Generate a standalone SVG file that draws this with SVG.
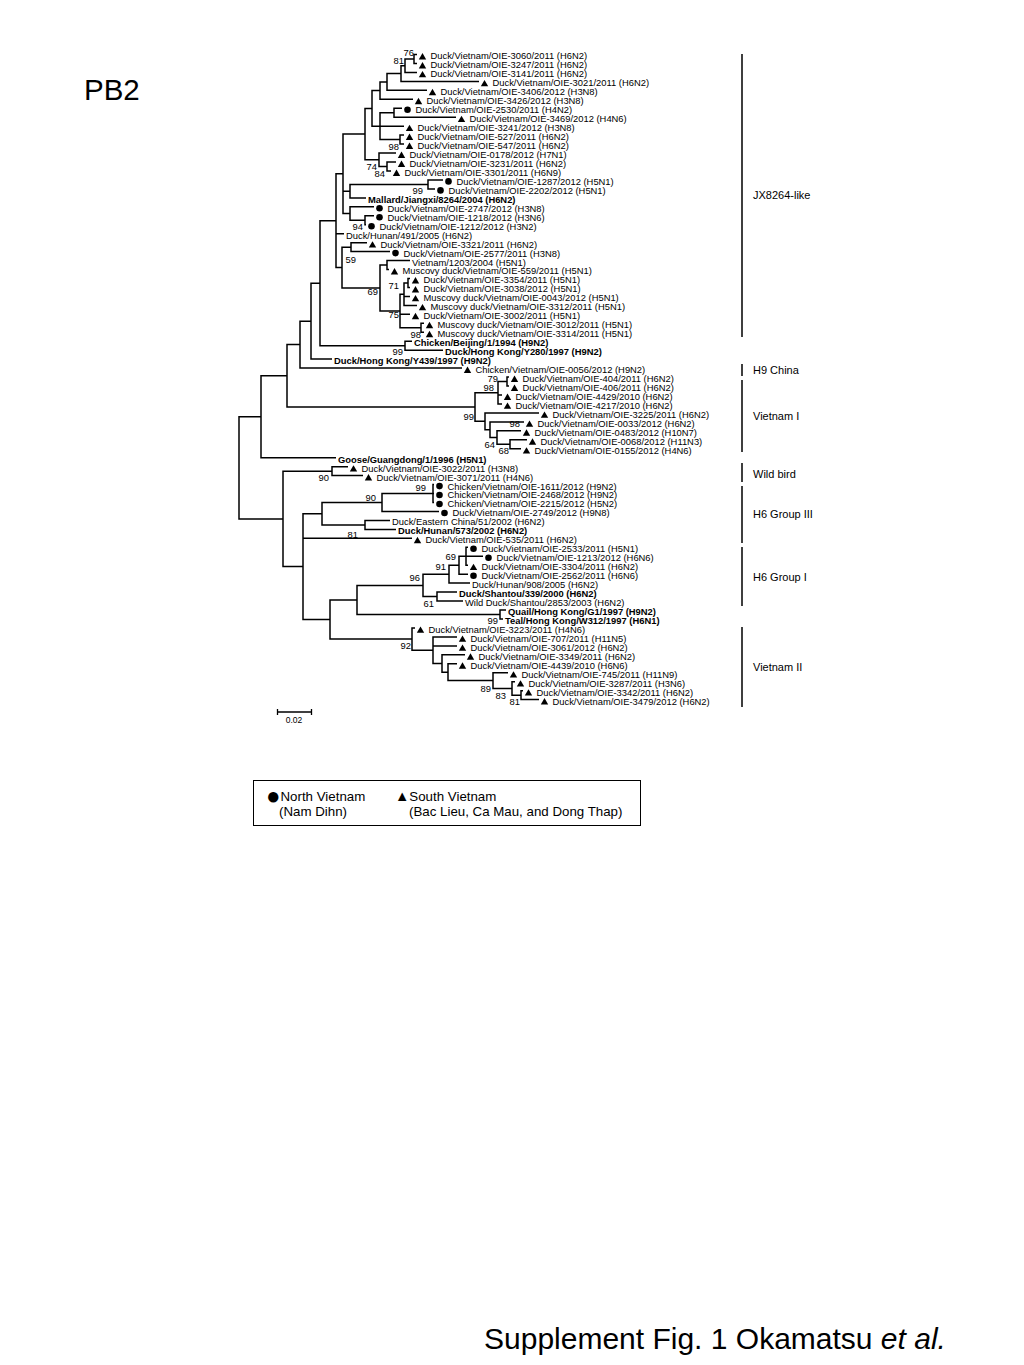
<svg xmlns="http://www.w3.org/2000/svg" width="1024" height="1365" viewBox="0 0 1024 1365">
<style>
text{font-family:"Liberation Sans",Arial,sans-serif;fill:#000}
.l{font-size:9.4px}
.b{font-size:9.4px;font-weight:bold}
.s{font-size:9.4px}
.c{font-size:11px}
.g{font-size:13.3px}
.br{fill:none;stroke:#000;stroke-width:1.5}
</style>
<defs>
<polygon id="tri" points="0,-6.4 3.7,0 -3.7,0" fill="#000"/>
<circle id="dot" r="3.3" fill="#000"/>
</defs>
<rect width="1024" height="1365" fill="#fff"/>
<text x="84" y="100" style="font-size:29.5px">PB2</text>
<g id="branches" class="br">
<path d="M417,54.5H414V63.5H417M414,59H405V72.4H417M405,65.7H401V81.4H479M401,73.55H387V90.3H427M387,81.9H380V99.3H413M402,108.3H394V117.2H456M404,135.1H400V144.1H404M394,112.75H380V139.6H400M380,126.2H404M380,90.6H372V126.2H380M396,162H387V171H391M396,153.1H379V166.5H387M372,108.4H365V159.8H379M443,179.9H428V188.9H435M428,184.4H350V197.9H366M374,215.8H365V224.7H366M374,206.8H350V220.25H365M365,134.1H343V213.5H350M343,191.15H350"/>
<path d="M367,242.7H351V251.6H390M410,260.6H387V269.5H389M410,278.5H408V287.5H410M408,283H404V305.4H417M404,296.4H410M424,323.3H421V332.3H424M404,294.2H400V327.8H421M400,314.3H410M387,265.05H380V311H400M351,247.15H342V288H380M343,173.8H336V267.6H342M336,233.7H344"/>
<path d="M412,341.2H405V350.2H443M336,220.7H320V345.7H405M320,283.2H311V359.1H332M311,321.15H300V368.1H462"/>
<path d="M509,377.1H507V386H509M507,381.55H498V403.9H502M498,395H502M527,439.8H510V448.7H521M521,430.8H497V444.25H510M524,421.9H490V437.5H497M539,412.9H485V429.7H490M498,392.7H475V421.3H485M300,344.6H287V407H475M287,375.8H261V457.7H336"/>
<path d="M348,466.7H332V475.6H363M434,484.6H433V502.5H434M433,493.5H434M433,493.55H382V511.5H439M390,520.4H365V529.4H396M382,502.5H322V524.9H365"/>
<path d="M468,547.3H466V565.2H468M466,556.3H483M466,556.25H459V574.2H468M459,565.2H449V583.1H470M457,592.1H437V601.1H463M449,574.15H423V596.6H437M506,610H500V619H503M423,585.4H357V614.5H500"/>
<path d="M523,690.7H521V699.6H539M515,681.7H512V695.15H521M508,672.7H493V688.4H512M457,663.8H448V680.55H493M465,654.8H442V672.2H448M457,636.9H433V663.5H442M433,645.9H457M415,627.9H412V650.2H433M357,599.95H330V639.05H412"/>
<path d="M322,513.7H303V619.5H330M303,538.3H412M332,471.15H283V566.6H303M261,416.75H239V518.9H283"/>
</g>
<g id="leaves" class="l">
<g id="n1"><use href="#tri" x="422.5" y="59.4"/><text x="430.5" y="59.4">Duck/Vietnam/OIE-3060/2011 (H6N2)</text></g>
<g id="n2"><use href="#tri" x="422.5" y="68.4"/><text x="430.5" y="68.4">Duck/Vietnam/OIE-3247/2011 (H6N2)</text></g>
<g id="n3"><use href="#tri" x="422.5" y="77.3"/><text x="430.5" y="77.3">Duck/Vietnam/OIE-3141/2011 (H6N2)</text></g>
<g id="n4"><use href="#tri" x="484.5" y="86.3"/><text x="492.5" y="86.3">Duck/Vietnam/OIE-3021/2011 (H6N2)</text></g>
<g id="n5"><use href="#tri" x="432.5" y="95.2"/><text x="440.5" y="95.2">Duck/Vietnam/OIE-3406/2012 (H3N8)</text></g>
<g id="n6"><use href="#tri" x="418.5" y="104.2"/><text x="426.5" y="104.2">Duck/Vietnam/OIE-3426/2012 (H3N8)</text></g>
<g id="n7"><use href="#dot" x="407.5" y="109.8"/><text x="415.5" y="113.2">Duck/Vietnam/OIE-2530/2011 (H4N2)</text></g>
<g id="n8"><use href="#tri" x="461.5" y="122.1"/><text x="469.5" y="122.1">Duck/Vietnam/OIE-3469/2012 (H4N6)</text></g>
<g id="n9"><use href="#tri" x="409.5" y="131.1"/><text x="417.5" y="131.1">Duck/Vietnam/OIE-3241/2012 (H3N8)</text></g>
<g id="n10"><use href="#tri" x="409.5" y="140"/><text x="417.5" y="140">Duck/Vietnam/OIE-527/2011 (H6N2)</text></g>
<g id="n11"><use href="#tri" x="409.5" y="149"/><text x="417.5" y="149">Duck/Vietnam/OIE-547/2011 (H6N2)</text></g>
<g id="n12"><use href="#tri" x="401.5" y="158"/><text x="409.5" y="158">Duck/Vietnam/OIE-0178/2012 (H7N1)</text></g>
<g id="n13"><use href="#tri" x="401.5" y="166.9"/><text x="409.5" y="166.9">Duck/Vietnam/OIE-3231/2011 (H6N2)</text></g>
<g id="n14"><use href="#tri" x="396.5" y="175.9"/><text x="404.5" y="175.9">Duck/Vietnam/OIE-3301/2011 (H6N9)</text></g>
<g id="n15"><use href="#dot" x="448.5" y="181.4"/><text x="456.5" y="184.8">Duck/Vietnam/OIE-1287/2012 (H5N1)</text></g>
<g id="n16"><use href="#dot" x="440.5" y="190.4"/><text x="448.5" y="193.8">Duck/Vietnam/OIE-2202/2012 (H5N1)</text></g>
<g id="n17"><text class="b" x="368" y="202.8">Mallard/Jiangxi/8264/2004 (H6N2)</text></g>
<g id="n18"><use href="#dot" x="379.5" y="208.3"/><text x="387.5" y="211.7">Duck/Vietnam/OIE-2747/2012 (H3N8)</text></g>
<g id="n19"><use href="#dot" x="379.5" y="217.3"/><text x="387.5" y="220.7">Duck/Vietnam/OIE-1218/2012 (H3N6)</text></g>
<g id="n20"><use href="#dot" x="371.5" y="226.2"/><text x="379.5" y="229.6">Duck/Vietnam/OIE-1212/2012 (H3N2)</text></g>
<g id="n21"><text x="346" y="238.6">Duck/Hunan/491/2005 (H6N2)</text></g>
<g id="n22"><use href="#tri" x="372.5" y="247.6"/><text x="380.5" y="247.6">Duck/Vietnam/OIE-3321/2011 (H6N2)</text></g>
<g id="n23"><use href="#dot" x="395.5" y="253.1"/><text x="403.5" y="256.5">Duck/Vietnam/OIE-2577/2011 (H3N8)</text></g>
<g id="n24"><text x="412" y="265.5">Vietnam/1203/2004 (H5N1)</text></g>
<g id="n25"><use href="#tri" x="394.5" y="274.4"/><text x="402.5" y="274.4">Muscovy duck/Vietnam/OIE-559/2011 (H5N1)</text></g>
<g id="n26"><use href="#tri" x="415.5" y="283.4"/><text x="423.5" y="283.4">Duck/Vietnam/OIE-3354/2011 (H5N1)</text></g>
<g id="n27"><use href="#tri" x="415.5" y="292.4"/><text x="423.5" y="292.4">Duck/Vietnam/OIE-3038/2012 (H5N1)</text></g>
<g id="n28"><use href="#tri" x="415.5" y="301.3"/><text x="423.5" y="301.3">Muscovy duck/Vietnam/OIE-0043/2012 (H5N1)</text></g>
<g id="n29"><use href="#tri" x="422.5" y="310.3"/><text x="430.5" y="310.3">Muscovy duck/Vietnam/OIE-3312/2011 (H5N1)</text></g>
<g id="n30"><use href="#tri" x="415.5" y="319.2"/><text x="423.5" y="319.2">Duck/Vietnam/OIE-3002/2011 (H5N1)</text></g>
<g id="n31"><use href="#tri" x="429.5" y="328.2"/><text x="437.5" y="328.2">Muscovy duck/Vietnam/OIE-3012/2011 (H5N1)</text></g>
<g id="n32"><use href="#tri" x="429.5" y="337.2"/><text x="437.5" y="337.2">Muscovy duck/Vietnam/OIE-3314/2011 (H5N1)</text></g>
<g id="n33"><text class="b" x="414" y="346.1">Chicken/Beijing/1/1994 (H9N2)</text></g>
<g id="n34"><text class="b" x="445" y="355.1">Duck/Hong Kong/Y280/1997 (H9N2)</text></g>
<g id="n35"><text class="b" x="334" y="364">Duck/Hong Kong/Y439/1997 (H9N2)</text></g>
<g id="n36"><use href="#tri" x="467.5" y="373"/><text x="475.5" y="373">Chicken/Vietnam/OIE-0056/2012 (H9N2)</text></g>
<g id="n37"><use href="#tri" x="514.5" y="382"/><text x="522.5" y="382">Duck/Vietnam/OIE-404/2011 (H6N2)</text></g>
<g id="n38"><use href="#tri" x="514.5" y="390.9"/><text x="522.5" y="390.9">Duck/Vietnam/OIE-406/2011 (H6N2)</text></g>
<g id="n39"><use href="#tri" x="507.5" y="399.9"/><text x="515.5" y="399.9">Duck/Vietnam/OIE-4429/2010 (H6N2)</text></g>
<g id="n40"><use href="#tri" x="507.5" y="408.8"/><text x="515.5" y="408.8">Duck/Vietnam/OIE-4217/2010 (H6N2)</text></g>
<g id="n41"><use href="#tri" x="544.5" y="417.8"/><text x="552.5" y="417.8">Duck/Vietnam/OIE-3225/2011 (H6N2)</text></g>
<g id="n42"><use href="#tri" x="529.5" y="426.8"/><text x="537.5" y="426.8">Duck/Vietnam/OIE-0033/2012 (H6N2)</text></g>
<g id="n43"><use href="#tri" x="526.5" y="435.7"/><text x="534.5" y="435.7">Duck/Vietnam/OIE-0483/2012 (H10N7)</text></g>
<g id="n44"><use href="#tri" x="532.5" y="444.7"/><text x="540.5" y="444.7">Duck/Vietnam/OIE-0068/2012 (H11N3)</text></g>
<g id="n45"><use href="#tri" x="526.5" y="453.6"/><text x="534.5" y="453.6">Duck/Vietnam/OIE-0155/2012 (H4N6)</text></g>
<g id="n46"><text class="b" x="338" y="462.6">Goose/Guangdong/1/1996 (H5N1)</text></g>
<g id="n47"><use href="#tri" x="353.5" y="471.6"/><text x="361.5" y="471.6">Duck/Vietnam/OIE-3022/2011 (H3N8)</text></g>
<g id="n48"><use href="#tri" x="368.5" y="480.5"/><text x="376.5" y="480.5">Duck/Vietnam/OIE-3071/2011 (H4N6)</text></g>
<g id="n49"><use href="#dot" x="439.5" y="486.1"/><text x="447.5" y="489.5">Chicken/Vietnam/OIE-1611/2012 (H9N2)</text></g>
<g id="n50"><use href="#dot" x="439.5" y="495"/><text x="447.5" y="498.4">Chicken/Vietnam/OIE-2468/2012 (H9N2)</text></g>
<g id="n51"><use href="#dot" x="439.5" y="504"/><text x="447.5" y="507.4">Chicken/Vietnam/OIE-2215/2012 (H5N2)</text></g>
<g id="n52"><use href="#dot" x="444.5" y="513"/><text x="452.5" y="516.4">Duck/Vietnam/OIE-2749/2012 (H9N8)</text></g>
<g id="n53"><text x="392" y="525.3">Duck/Eastern China/51/2002 (H6N2)</text></g>
<g id="n54"><text class="b" x="398" y="534.3">Duck/Hunan/573/2002 (H6N2)</text></g>
<g id="n55"><use href="#tri" x="417.5" y="543.2"/><text x="425.5" y="543.2">Duck/Vietnam/OIE-535/2011 (H6N2)</text></g>
<g id="n56"><use href="#dot" x="473.5" y="548.8"/><text x="481.5" y="552.2">Duck/Vietnam/OIE-2533/2011 (H5N1)</text></g>
<g id="n57"><use href="#dot" x="488.5" y="557.8"/><text x="496.5" y="561.2">Duck/Vietnam/OIE-1213/2012 (H6N6)</text></g>
<g id="n58"><use href="#tri" x="473.5" y="570.1"/><text x="481.5" y="570.1">Duck/Vietnam/OIE-3304/2011 (H6N2)</text></g>
<g id="n59"><use href="#dot" x="473.5" y="575.7"/><text x="481.5" y="579.1">Duck/Vietnam/OIE-2562/2011 (H6N6)</text></g>
<g id="n60"><text x="472" y="588">Duck/Hunan/908/2005 (H6N2)</text></g>
<g id="n61"><text class="b" x="459" y="597">Duck/Shantou/339/2000 (H6N2)</text></g>
<g id="n62"><text x="465" y="606">Wild Duck/Shantou/2853/2003 (H6N2)</text></g>
<g id="n63"><text class="b" x="508" y="614.9">Quail/Hong Kong/G1/1997 (H9N2)</text></g>
<g id="n64"><text class="b" x="505" y="623.9">Teal/Hong Kong/W312/1997 (H6N1)</text></g>
<g id="n65"><use href="#tri" x="420.5" y="632.8"/><text x="428.5" y="632.8">Duck/Vietnam/OIE-3223/2011 (H4N6)</text></g>
<g id="n66"><use href="#tri" x="462.5" y="641.8"/><text x="470.5" y="641.8">Duck/Vietnam/OIE-707/2011 (H11N5)</text></g>
<g id="n67"><use href="#tri" x="462.5" y="650.8"/><text x="470.5" y="650.8">Duck/Vietnam/OIE-3061/2012 (H6N2)</text></g>
<g id="n68"><use href="#tri" x="470.5" y="659.7"/><text x="478.5" y="659.7">Duck/Vietnam/OIE-3349/2011 (H6N2)</text></g>
<g id="n69"><use href="#tri" x="462.5" y="668.7"/><text x="470.5" y="668.7">Duck/Vietnam/OIE-4439/2010 (H6N6)</text></g>
<g id="n70"><use href="#tri" x="513.5" y="677.6"/><text x="521.5" y="677.6">Duck/Vietnam/OIE-745/2011 (H11N9)</text></g>
<g id="n71"><use href="#tri" x="520.5" y="686.6"/><text x="528.5" y="686.6">Duck/Vietnam/OIE-3287/2011 (H3N6)</text></g>
<g id="n72"><use href="#tri" x="528.5" y="695.6"/><text x="536.5" y="695.6">Duck/Vietnam/OIE-3342/2011 (H6N2)</text></g>
<g id="n73"><use href="#tri" x="544.5" y="704.5"/><text x="552.5" y="704.5">Duck/Vietnam/OIE-3479/2012 (H6N2)</text></g>
</g>
<g id="support" class="s" text-anchor="end">
<text x="414" y="55.5">76</text>
<text x="404" y="63.5">81</text>
<text x="399" y="149.5">98</text>
<text x="377" y="169.5">74</text>
<text x="385" y="176.5">84</text>
<text x="423" y="193.5">99</text>
<text x="363" y="229.5">94</text>
<text x="356" y="262.5">59</text>
<text x="378" y="294.5">69</text>
<text x="399" y="288.5">71</text>
<text x="399" y="317.5">75</text>
<text x="421" y="337.5">98</text>
<text x="403" y="355">99</text>
<text x="498" y="381.5">79</text>
<text x="494" y="391">98</text>
<text x="474" y="419.5">99</text>
<text x="520" y="426.5">98</text>
<text x="495" y="447.5">64</text>
<text x="509" y="453.5">68</text>
<text x="329" y="480.5">90</text>
<text x="426" y="490.5">99</text>
<text x="376" y="500.5">90</text>
<text x="358" y="537.5">81</text>
<text x="456" y="560">69</text>
<text x="446" y="569.5">91</text>
<text x="420" y="580.5">96</text>
<text x="434" y="606.5">61</text>
<text x="498" y="624">99</text>
<text x="411" y="648.5">92</text>
<text x="491" y="691.5">89</text>
<text x="506" y="698.5">83</text>
<text x="520" y="704.5">81</text>
</g>
<g id="clades">
<path class="br" d="M742,54V337M742,364V376M742,380V452M742,463V482M742,486V543M742,547V606M742,627V707"/>
<text class="c" x="753" y="199">JX8264-like</text>
<text class="c" x="753" y="374">H9 China</text>
<text class="c" x="753" y="420">Vietnam I</text>
<text class="c" x="753" y="478">Wild bird</text>
<text class="c" x="753" y="518">H6 Group III</text>
<text class="c" x="753" y="581">H6 Group I</text>
<text class="c" x="753" y="671">Vietnam II</text>
</g>
<g id="scale">
<path d="M277,712H312M277.5,709V715M311.5,709V715" fill="none" stroke="#000" stroke-width="1.3"/>
<text x="294" y="723" text-anchor="middle" style="font-size:8.5px">0.02</text>
</g>
<g id="legend">
<rect x="253.5" y="780.5" width="387" height="45" fill="none" stroke="#000" stroke-width="1"/>
<text class="g" x="266" y="800.5"><tspan style="font-size:24px" dy="3">●</tspan><tspan dy="-3">North Vietnam</tspan></text>
<text class="g" x="279" y="815.5">(Nam Dihn)</text>
<text class="g" x="395" y="800.5"><tspan style="font-size:14.5px">▲</tspan>South Vietnam</text>
<text class="g" x="409" y="815.5">(Bac Lieu, Ca Mau, and Dong Thap)</text>
</g>
<text x="484" y="1349" style="font-size:30px">Supplement Fig. 1 Okamatsu <tspan font-style="italic">et al.</tspan></text>
</svg>
